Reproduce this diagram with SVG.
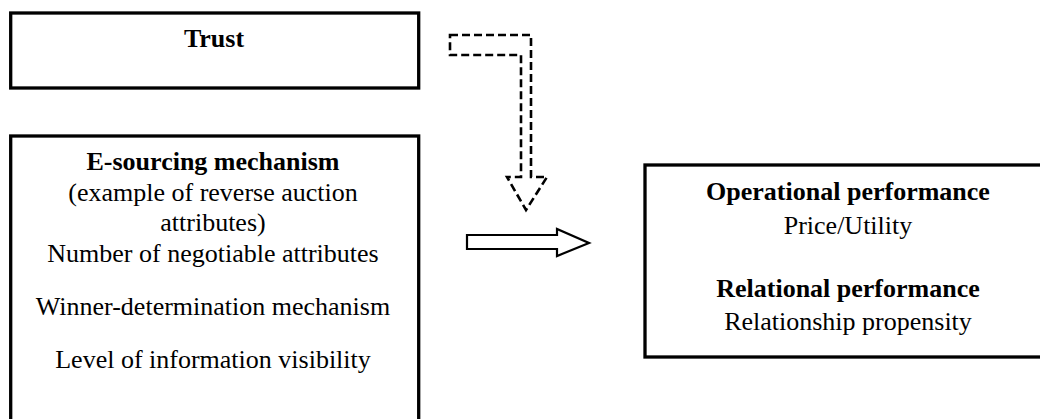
<svg xmlns="http://www.w3.org/2000/svg" width="1040" height="419" viewBox="0 0 1040 419">
<style>
.box{fill:#fff;stroke:#000;stroke-width:3.3}
text{font-family:"Liberation Serif","Times New Roman",serif;font-size:26px;fill:#000;text-anchor:middle}
.b{font-weight:bold}
.dash{fill:none;stroke:#000;stroke-width:2.6;stroke-dasharray:8 4}
.solid{fill:#fff;stroke:#000;stroke-width:2.2;stroke-linejoin:miter}
</style>
<rect width="1040" height="419" fill="#fff"/>
<g id="trust">
<rect class="box" x="10.7" y="13" width="408" height="75"/>
<text class="b" x="214" y="47">Trust</text>
</g>
<g id="esourcing">
<rect class="box" x="10.7" y="136" width="408" height="300"/>
<text class="b" x="213" y="170">E-sourcing mechanism</text>
<text x="213" y="201">(example of reverse auction</text>
<text x="213" y="231">attributes)</text>
<text x="213" y="262">Number of negotiable attributes</text>
<text x="213" y="315">Winner-determination mechanism</text>
<text x="213" y="368">Level of information visibility</text>
</g>
<g id="performance">
<rect class="box" x="645" y="165" width="420" height="192"/>
<text class="b" x="848" y="200">Operational performance</text>
<text x="848" y="234">Price/Utility</text>
<text class="b" x="848" y="297">Relational performance</text>
<text x="848" y="330">Relationship propensity</text>
</g>
<g id="connectors">
<path class="dash" d="M450,35 H531 V177 H547 L526,210 L507,177 H521 V55 H450 Z"/>
<path class="solid" d="M467,235 H557 V229 L589,243 L557,256 V249 H467 Z"/>
</g>
</svg>
